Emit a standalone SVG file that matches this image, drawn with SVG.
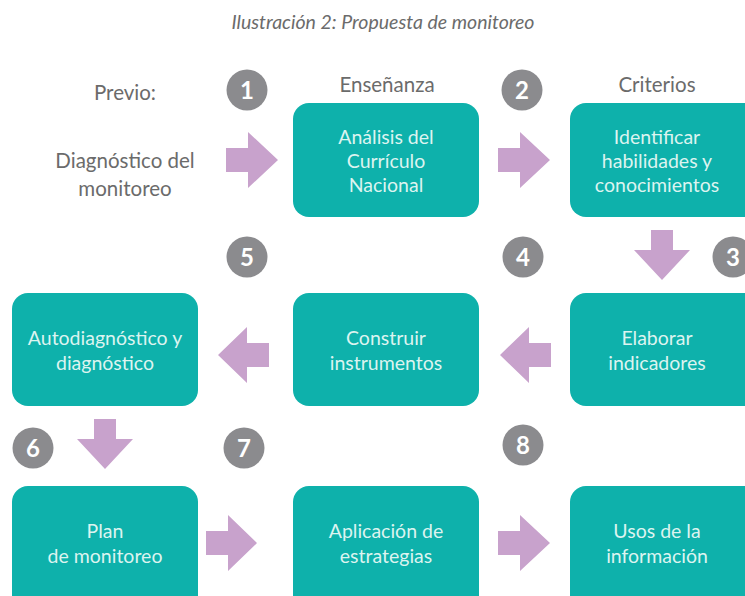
<svg xmlns="http://www.w3.org/2000/svg" width="745" height="596" viewBox="0 0 745 596">
<style>
.box{fill:#0eb1ab}
.bt{font-family:Lato,"Open Sans","Liberation Sans",sans-serif;font-size:19.5px;fill:#dcf4f0;text-anchor:middle}
.lbl{font-family:Lato,"Open Sans","Liberation Sans",sans-serif;font-size:20.5px;fill:#6b6b6b;text-anchor:middle}
.ttl{font-family:Lato,"Open Sans","Liberation Sans",sans-serif;font-size:19.5px;font-style:italic;fill:#6b6b6b;text-anchor:middle}
.num circle{fill:#8b8b8e}
.num text{font-family:Lato,"Open Sans","Liberation Sans",sans-serif;font-size:24px;font-weight:bold;fill:#fff;text-anchor:middle}
.arr{fill:#c8a2cc}
</style>
<rect width="745" height="596" fill="#fff"/>
<text class="ttl" x="383" y="29">Ilustración 2: Propuesta de monitoreo</text>

<g id="previo">
<text class="lbl" x="125" y="100">Previo:</text>
<text class="lbl" x="125" y="168">Diagnóstico del</text>
<text class="lbl" x="125" y="196">monitoreo</text>
</g>
<text class="lbl" x="387" y="92">Enseñanza</text>
<text class="lbl" x="657" y="92">Criterios</text>

<g id="n1"><rect class="box" x="293" y="103" width="186" height="114" rx="16"/>
<text class="bt" x="386" y="144">Análisis del</text><text class="bt" x="386" y="168">Currículo</text><text class="bt" x="386" y="192">Nacional</text></g>
<g id="n2"><rect class="box" x="570" y="103" width="190" height="114" rx="16"/>
<text class="bt" x="657" y="144">Identificar</text><text class="bt" x="657" y="168">habilidades y</text><text class="bt" x="657" y="192">conocimientos</text></g>
<g id="n3"><rect class="box" x="570" y="293" width="190" height="113" rx="16"/>
<text class="bt" x="657" y="345">Elaborar</text><text class="bt" x="657" y="370">indicadores</text></g>
<g id="n4"><rect class="box" x="293" y="293" width="186" height="113" rx="16"/>
<text class="bt" x="386" y="345">Construir</text><text class="bt" x="386" y="370">instrumentos</text></g>
<g id="n5"><rect class="box" x="12" y="293" width="186" height="113" rx="16"/>
<text class="bt" x="105" y="345">Autodiagnóstico y</text><text class="bt" x="105" y="370">diagnóstico</text></g>
<g id="n6"><rect class="box" x="12" y="486" width="186" height="125" rx="16"/>
<text class="bt" x="105" y="538">Plan</text><text class="bt" x="105" y="563">de monitoreo</text></g>
<g id="n7"><rect class="box" x="293" y="486" width="186" height="125" rx="16"/>
<text class="bt" x="386" y="538">Aplicación de</text><text class="bt" x="386" y="563">estrategias</text></g>
<g id="n8"><rect class="box" x="570" y="486" width="190" height="125" rx="16"/>
<text class="bt" x="657" y="538">Usos de la</text><text class="bt" x="657" y="563">información</text></g>

<g id="connectors">
<path class="arr" d="M226,148 H248 V132 L278,160 L248,188 V172 H226 Z"/>
<path class="arr" d="M498,148 H520 V132 L550,160 L520,188 V172 H498 Z"/>
<path class="arr" d="M651,230 V250 H634 L662,280 L690,250 H673 V230 Z"/>
<path class="arr" d="M551,343 H529 V327 L500,355 L529,383 V367 H551 Z"/>
<path class="arr" d="M269,343 H247 V327 L218,355 L247,383 V367 H269 Z"/>
<path class="arr" d="M94,419 V439 H77 L105,469 L133,439 H116 V419 Z"/>
<path class="arr" d="M206,531 H228 V515 L257,543 L228,571 V555 H206 Z"/>
<path class="arr" d="M498,531 H520 V515 L550,543 L520,571 V555 H498 Z"/>
</g>

<g class="num">
<g id="c1"><circle cx="247" cy="90" r="20.5"/><text x="247" y="99">1</text></g>
<g id="c2"><circle cx="522" cy="90" r="20.5"/><text x="522" y="99">2</text></g>
<g id="c3"><circle cx="733" cy="257" r="20.5"/><text x="733" y="266">3</text></g>
<g id="c4"><circle cx="523" cy="257" r="20.5"/><text x="523" y="266">4</text></g>
<g id="c5"><circle cx="247" cy="257" r="20.5"/><text x="247" y="266">5</text></g>
<g id="c6"><circle cx="33" cy="448" r="20.5"/><text x="33" y="457">6</text></g>
<g id="c7"><circle cx="244" cy="448" r="20.5"/><text x="244" y="457">7</text></g>
<g id="c8"><circle cx="523" cy="445" r="20.5"/><text x="523" y="454">8</text></g>
</g>
</svg>
